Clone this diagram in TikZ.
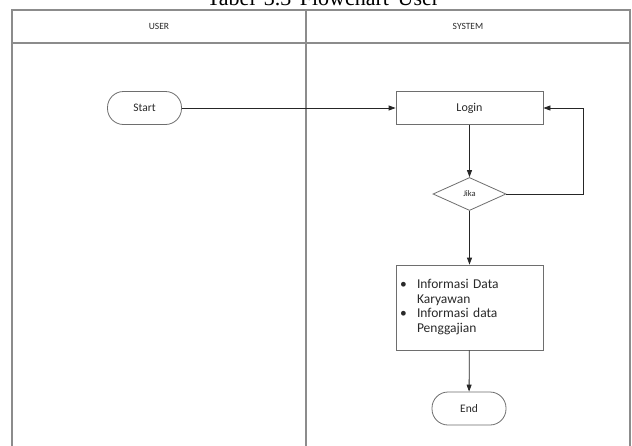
\documentclass[tikz,border=0pt]{standalone}
\usepackage{fontspec}
\setmainfont{Carlito}
\newfontfamily\titlefont{Liberation Serif}
\usetikzlibrary{shapes.geometric,arrows.meta}
\definecolor{lanegray}{HTML}{8C8C8C}
\definecolor{shapegray}{HTML}{6E6E6E}
\definecolor{txt}{HTML}{2A2A2A}
\tikzset{
 lane/.style={draw=lanegray, line width=1.1pt},
 lanehead/.style={font=\fontsize{9.5}{11}\selectfont, text=txt},
 term/.style={draw=shapegray, line width=0.8pt, rounded corners=16pt, minimum width=74pt, minimum height=33pt, font=\fontsize{11.5}{13}\selectfont, text=txt, inner sep=0pt},
 proc/.style={draw=shapegray, line width=0.8pt, minimum width=147pt, minimum height=33pt, inner sep=0pt, font=\fontsize{12}{14}\selectfont, text=txt},
 decision/.style={diamond, draw=shapegray, line width=0.8pt, minimum width=73pt, minimum height=33pt, inner sep=0pt, aspect=2.2, font=\fontsize{8.5}{10}\selectfont, text=txt},
 flow/.style={draw=black!85, line width=0.8pt, -{Triangle[length=7pt,width=5pt]}}
}
\begin{document}
\begin{tikzpicture}[x=1pt,y=-1pt]
\useasboundingbox (0,0) rectangle (632,445);
\clip (0,0) rectangle (632,445);
\fill[white] (0,0) rectangle (632,445);
% title (clipped at top, as in the reference)
\node[font=\titlefont\fontsize{22}{24}\selectfont, anchor=base, inner sep=0pt] (title) at (323,5) {Tabel\hspace{3pt} 3.3\hspace{3pt} Flowchart\hspace{3pt} User};
% swimlanes
\draw[lane] (12,460) -- (12,10) -- (630,10) -- (630,460);
\draw[lane] (12,43) -- (630,43);
\draw[lane] (306,10) -- (306,460);
\node[lanehead] (user) at (159,26) {USER};
\node[lanehead] (system) at (468,26) {SYSTEM};
% nodes
\node[term] (start) at (144.5,108) {Start};
\node[proc] (login) at (469.5,108) {Login};
\node[decision] (jika) at (469.5,194) {Jika};
\node[proc, minimum height=85pt, text width=139pt, align=left, inner xsep=4pt, font=\fontsize{13.5}{14.5}\selectfont] (info) at (469.5,307.5)
 {\begin{tabular}{@{}p{17pt}@{}l@{}}
 \textbullet & Informasi Data\\
 & Karyawan\\
 \textbullet & Informasi data\\
 & Penggajian
 \end{tabular}};
\node[term] (end) at (469,408.5) {End};
% connectors
\draw[flow] (start) -- (login);
\draw[flow] (login) -- (jika);
\draw[flow] (jika.east) -- ++(77,0) |- (login.east);
\draw[flow] (jika) -- (info);
\draw[flow] (info) -- (end);
\end{tikzpicture}
\end{document}
